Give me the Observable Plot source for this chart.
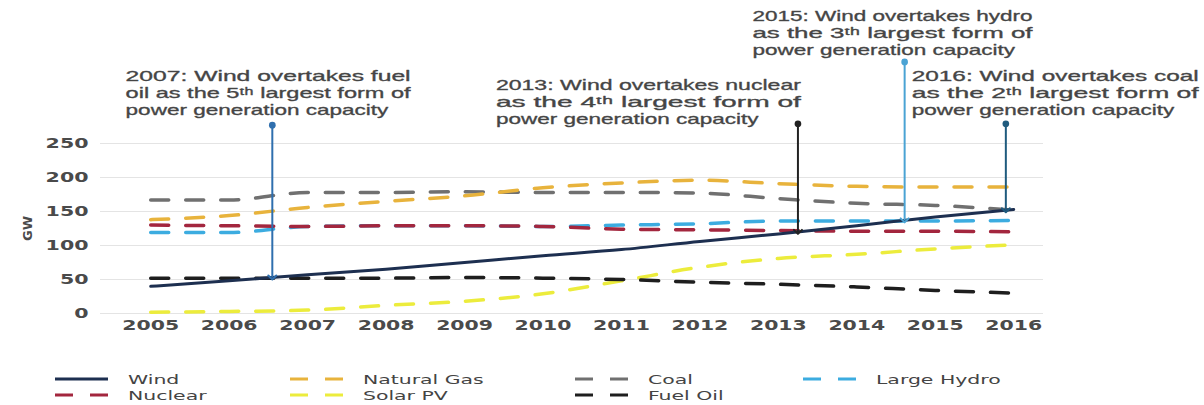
<!DOCTYPE html>
<html>
<head>
<meta charset="utf-8">
<script src="https://cdn.jsdelivr.net/npm/d3@7"></script>
<script src="https://cdn.jsdelivr.net/npm/@observablehq/plot@0.6"></script>
<style>
  html, body { margin: 0; padding: 0; background: #fff; }
  body { width: 1204px; height: 405px; overflow: hidden; }
  #chart svg { display: block; }
  #legend { display: block; }
</style>
</head>
<body>
<div id="chart"></div>
<div id="legendWrap"></div>
<script>
// ---------- data ----------
const years = [2005, 2006, 2007, 2008, 2009, 2010, 2011, 2012, 2013, 2014, 2015, 2016];
const wind       = [40, 48, 57, 65, 75, 85, 94, 106, 117, 129, 142, 153];
const naturalGas = [138, 144, 156, 165, 173, 185, 192, 196, 191, 187, 186, 186];
const coal       = [167, 167, 178, 178, 179, 178, 178, 177, 169, 162, 159, 152];
const largeHydro = [119, 119, 128, 129, 129, 128, 130, 132, 136, 136, 136, 137];
const nuclear    = [130, 129, 128, 129, 129, 128, 124, 123, 122, 121, 121, 120];
const solarPV    = [2, 3, 5, 12, 18, 29, 48, 68, 81, 87, 95, 101];
const fuelOil    = [52, 52, 52, 52, 53, 52, 50, 46, 43, 39, 34, 30];

const seriesNames  = ["Wind", "Natural Gas", "Coal", "Large Hydro", "Nuclear", "Solar PV", "Fuel Oil"];
const seriesValues = [wind, naturalGas, coal, largeHydro, nuclear, solarPV, fuelOil];
const seriesColors = ["#1d2f50", "#e8b33c", "#707070", "#3cace0", "#a3263e", "#ecec3c", "#1e1e1e"];
const seriesDashed = [false, true, true, true, true, true, true];
const drawOrder    = ["Coal", "Natural Gas", "Large Hydro", "Nuclear", "Solar PV", "Fuel Oil", "Wind"];

const yTicks = [0, 50, 100, 150, 200, 250];

// annotations (year position of the arrow, top of arrow in GW, text block)
const annoYears   = [2006.55, 2013.25, 2014.61, 2015.9];
const annoTopGW   = [277, 279, 370, 279];
const annoColors  = ["#2f6fae", "#222222", "#4aa3d4", "#1f5b7e"];
const annoTextX   = [2004.68, 2009.40, 2012.67, 2014.70];
const annoTextY   = [349, 336, 437, 349];
const annoWidth   = [285, 305, 280, 287];
const annoLines = [
  ["2007: Wind overtakes fuel", "oil as the 5ᵗʰ largest form of", "power generation capacity"],
  ["2013: Wind overtakes nuclear", "as the 4ᵗʰ largest form of", "power generation capacity"],
  ["2015: Wind overtakes hydro", "as the 3ᵗʰ largest form of", "power generation capacity"],
  ["2016: Wind overtakes coal", "as the 2ᵗʰ largest form of", "power generation capacity"]
];

// ---------- derived tables ----------
const table = seriesNames.flatMap((s, i) => years.map((y, j) => ({series: s, year: y, value: seriesValues[i][j]})));
const windAt = d3.scaleLinear().domain(years).range(wind);
const arrows = annoYears.map((y, i) => ({x: y, y1: annoTopGW[i], y2: windAt(y), color: annoColors[i]}));
const lineStep = 25;
const textRows = annoLines.flatMap((lines, i) => lines.map((t, k) => ({
  x: annoTextX[i], y: annoTextY[i] - k * lineStep, text: t, w: k < 2 ? annoWidth[i] : null
})));

const lineMarks = drawOrder.map(name => {
  const i = seriesNames.indexOf(name);
  return Plot.line(table.filter(d => d.series === name), {
    x: "year", y: "value",
    stroke: seriesColors[i],
    strokeWidth: seriesDashed[i] ? 3.5 : 3,
    strokeDasharray: seriesDashed[i] ? "18,17" : null,
    curve: "monotone-x"
  });
});

const chart = Plot.plot({
  width: 1204,
  height: 345,
  marginLeft: 100,
  marginRight: 161,
  marginTop: 143,
  marginBottom: 32,
  style: {background: "#fff", overflow: "visible"},
  x: {domain: [2004.36, 2016.38]},
  y: {domain: [0, 250]},
  marks: [
    Plot.gridY(yTicks, {stroke: "#e4e4e4", strokeOpacity: 1, strokeWidth: 1}),
    Plot.axisX({ticks: years, tickFormat: d => String(d), tickSize: 0, tickPadding: 7,
      fontSize: 14, fontWeight: "bold", fill: "#4a4a4a", label: null, fontFamily: "DejaVu Sans"}),
    Plot.axisY({ticks: yTicks, tickSize: 0, tickPadding: 12, fontSize: 14, fontWeight: "bold",
      fill: "#4a4a4a", fontFamily: "DejaVu Sans",
      label: "GW", labelAnchor: "center", labelArrow: "none", labelOffset: 78}),
    ...lineMarks,
    Plot.link(arrows, {x1: "x", x2: "x", y1: "y1", y2: "y2", stroke: d => d.color,
      strokeWidth: 2, markerStart: "dot", markerEnd: "arrow"}),
    Plot.text(textRows, {x: "x", y: "y", text: "text", textAnchor: "start", lineAnchor: "middle",
      fontSize: 15, fill: "#454545", stroke: "#555", strokeWidth: 0.35,
      fontFamily: "Liberation Sans, Arial, sans-serif", className: "anno"})
  ]
});
document.getElementById("chart").appendChild(chart);

// stretch texts horizontally (the reference is drawn with wide lettering)
const svg = d3.select(chart);
svg.selectAll("g[aria-label='x-axis tick label'] text").each(function() {
  const n = this.textContent.length;
  this.setAttribute("textLength", n * 14.2);
  this.setAttribute("lengthAdjust", "spacingAndGlyphs");
});
svg.selectAll("g[aria-label='y-axis tick label'] text").each(function() {
  const n = this.textContent.length;
  this.setAttribute("textLength", n * 14.3);
  this.setAttribute("lengthAdjust", "spacingAndGlyphs");
});
svg.selectAll("g[aria-label='y-axis label'] text").attr("font-size", 13).attr("font-weight", "bold").attr("fill", "#4a4a4a");
svg.selectAll("g.anno text").each(function(d, i) {
  const row = textRows[i];
  const nat = this.getComputedTextLength();
  this.setAttribute("textLength", row.w != null ? row.w : nat * 1.5);
  this.setAttribute("lengthAdjust", "spacingAndGlyphs");
});

// ---------- legend ----------
const legendCols = [55, 290, 575, 803];
const legendLayout = [
  ["Wind", 0, 0], ["Natural Gas", 1, 0], ["Coal", 2, 0], ["Large Hydro", 3, 0],
  ["Nuclear", 0, 1], ["Solar PV", 1, 1], ["Fuel Oil", 2, 1]
];
const leg = d3.select("#legendWrap").append("svg").attr("id", "legend")
  .attr("width", 1204).attr("height", 60);
legendLayout.forEach(([name, col, row]) => {
  const i = seriesNames.indexOf(name);
  const x0 = legendCols[col];
  const cy = 34 + row * 16;
  leg.append("line").attr("x1", x0).attr("x2", x0 + 53).attr("y1", cy).attr("y2", cy)
    .attr("stroke", seriesColors[i]).attr("stroke-width", 3)
    .attr("stroke-dasharray", seriesDashed[i] ? "18,17" : null);
  const t = leg.append("text").attr("x", x0 + 73).attr("y", cy).attr("dy", "0.35em")
    .attr("font-family", "DejaVu Sans").attr("font-size", 13).attr("fill", "#444").text(name);
  const nat = t.node().getComputedTextLength();
  t.attr("textLength", nat * 1.57).attr("lengthAdjust", "spacingAndGlyphs");
});
</script>
</body>
</html>
